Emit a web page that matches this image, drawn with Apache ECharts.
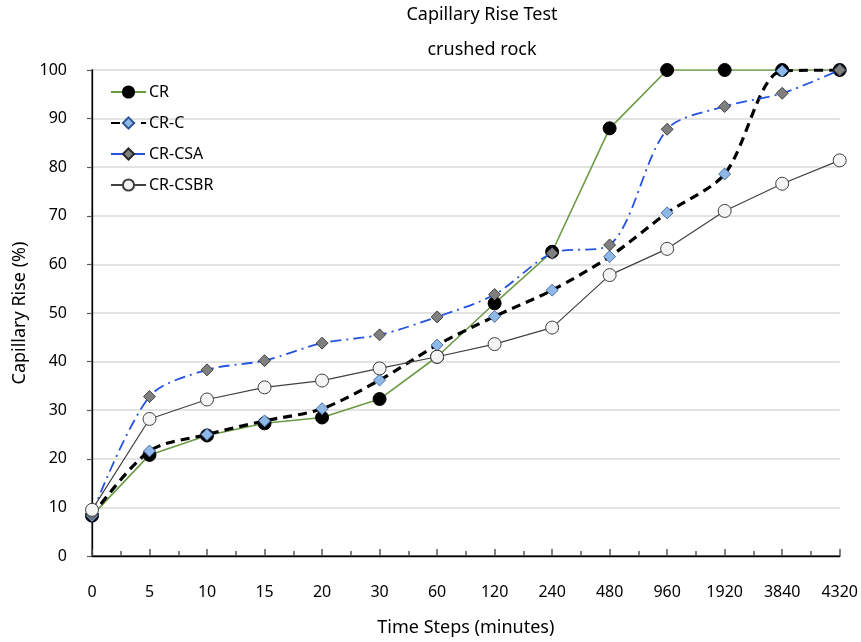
<!DOCTYPE html>
<html>
<head>
<meta charset="utf-8">
<script src="https://cdn.jsdelivr.net/npm/echarts@6/dist/echarts.min.js"></script>
<style>
  html, body { margin: 0; padding: 0; background: #fff; }
  #chart { width: 861px; height: 642px; }
</style>
</head>
<body>
<div id="chart"></div>
<script>
// Time steps (minutes) along the x axis
const timeSteps = ['0', '5', '10', '15', '20', '30', '60', '120', '240', '480', '960', '1920', '3840', '4320'];

// Capillary rise (%) per mix
const crValues    = [8.3, 20.8, 24.8, 27.3, 28.5, 32.3, 41.0, 52.0, 62.6, 88.0, 100, 100, 100, 100];
const crcValues   = [8.3, 21.6, 25.0, 27.8, 30.3, 36.2, 43.4, 49.3, 54.7, 61.6, 70.6, 78.6, 99.8, 100];
const crcsaValues = [8.7, 32.8, 38.3, 40.2, 43.8, 45.5, 49.2, 53.8, 62.3, 64.0, 87.8, 92.5, 95.2, 100];
const crcsbrValues = [9.5, 28.2, 32.2, 34.7, 36.1, 38.6, 41.0, 43.6, 47.0, 57.8, 63.2, 71.0, 76.6, 81.4];

const yTicks = [0, 10, 20, 30, 40, 50, 60, 70, 80, 90, 100];

const FONT = '"Noto Sans", "DejaVu Sans", sans-serif';

// Pair each value with its time-step position on the axis
const toPoints = vals => vals.map((v, i) => [i, v]);

const chart = echarts.init(document.getElementById('chart'), null, { renderer: 'canvas' });

chart.setOption({
  animation: false,
  backgroundColor: '#ffffff',
  title: [
    {
      text: 'Capillary Rise Test',
      left: 482, top: 6, textAlign: 'center', padding: 0,
      textStyle: { fontFamily: FONT, fontSize: 18, fontWeight: 'normal', color: '#000' }
    },
    {
      text: 'crushed rock',
      left: 482, top: 41, textAlign: 'center', padding: 0,
      textStyle: { fontFamily: FONT, fontSize: 18, fontWeight: 'normal', color: '#000' }
    }
  ],
  legend: {
    orient: 'vertical',
    left: 110, top: 84, padding: 0,
    itemWidth: 35, itemHeight: 14, itemGap: 15,
    textStyle: { fontFamily: FONT, fontSize: 16, lineHeight: 16, color: '#000', padding: [0, 0, 0, -2] },
    data: ['CR', 'CR-C', 'CR-CSA', 'CR-CSBR']
  },
  grid: { left: 92, right: 20, top: 70, bottom: 86, containLabel: false },
  xAxis: [
    {
      type: 'value', min: 0, max: timeSteps.length - 1, interval: 1,
      name: 'Time Steps (minutes)', nameLocation: 'middle', nameGap: 63,
      nameTextStyle: { fontFamily: FONT, fontSize: 18, color: '#000' },
      axisLine: { show: true, lineStyle: { color: '#595959', width: 1.5 } },
      axisTick: { show: true, inside: true, length: 7, lineStyle: { color: '#595959', width: 1.5 } },
      minorTick: { show: true, splitNumber: 2, length: 5, lineStyle: { color: '#595959', width: 1.5 } },
      axisLabel: {
        margin: 28, fontFamily: FONT, fontSize: 16, color: '#000',
        formatter: v => timeSteps[v] !== undefined ? timeSteps[v] : ''
      },
      splitLine: { show: false }
    },
    {
      type: 'value', position: 'top', min: 0, max: timeSteps.length - 1,
      axisLine: { show: true, lineStyle: { color: '#000', width: 1.3 } },
      axisTick: { show: false }, axisLabel: { show: false }, splitLine: { show: false }
    }
  ],
  yAxis: [
    {
      type: 'value', min: yTicks[0], max: yTicks[yTicks.length - 1], interval: 10,
      name: 'Capillary Rise (%)', nameLocation: 'middle', nameGap: 61, nameRotate: 90,
      nameTextStyle: { fontFamily: FONT, fontSize: 18, color: '#000' },
      axisLine: { show: true, lineStyle: { color: '#595959', width: 1.5 } },
      axisTick: { show: true, inside: false, length: 5, lineStyle: { color: '#595959', width: 1.2 } },
      axisLabel: { margin: 25, fontFamily: FONT, fontSize: 16, color: '#000' },
      splitLine: { show: true, lineStyle: { color: '#e3e3e3', width: 2 } }
    },
    {
      type: 'value', position: 'right', min: 0, max: 100,
      axisLine: { show: true, lineStyle: { color: '#000', width: 1.3 } },
      axisTick: { show: false }, axisLabel: { show: false }, splitLine: { show: false }
    }
  ],
  series: [
    {
      name: 'CR', type: 'line', data: toPoints(crValues),
      symbol: 'circle', symbolSize: 13,
      itemStyle: { color: '#000000', borderColor: '#000000', borderWidth: 1 },
      lineStyle: { color: '#6b9a45', width: 1.6, type: 'solid' },
      z: 2
    },
    {
      name: 'CR-C', type: 'line', data: toPoints(crcValues), smooth: 0.3,
      symbol: 'diamond', symbolSize: 12,
      itemStyle: { color: '#8fb8e6', borderColor: '#2f5597', borderWidth: 0.8 },
      lineStyle: { color: '#000000', width: 3.2, type: [9, 6] },
      z: 3
    },
    {
      name: 'CR-CSA', type: 'line', data: toPoints(crcsaValues), smooth: 0.3,
      symbol: 'diamond', symbolSize: 12,
      itemStyle: { color: '#7f7f7f', borderColor: '#262626', borderWidth: 0.8 },
      lineStyle: { color: '#2553e0', width: 1.8, type: [11, 5, 2, 5] },
      z: 4
    },
    {
      name: 'CR-CSBR', type: 'line', data: toPoints(crcsbrValues),
      symbol: 'circle', symbolSize: 13,
      itemStyle: { color: '#f4f4f4', borderColor: '#404040', borderWidth: 1 },
      lineStyle: { color: '#404040', width: 1.2, type: 'solid' },
      z: 5
    }
  ]
});
</script>
</body>
</html>
